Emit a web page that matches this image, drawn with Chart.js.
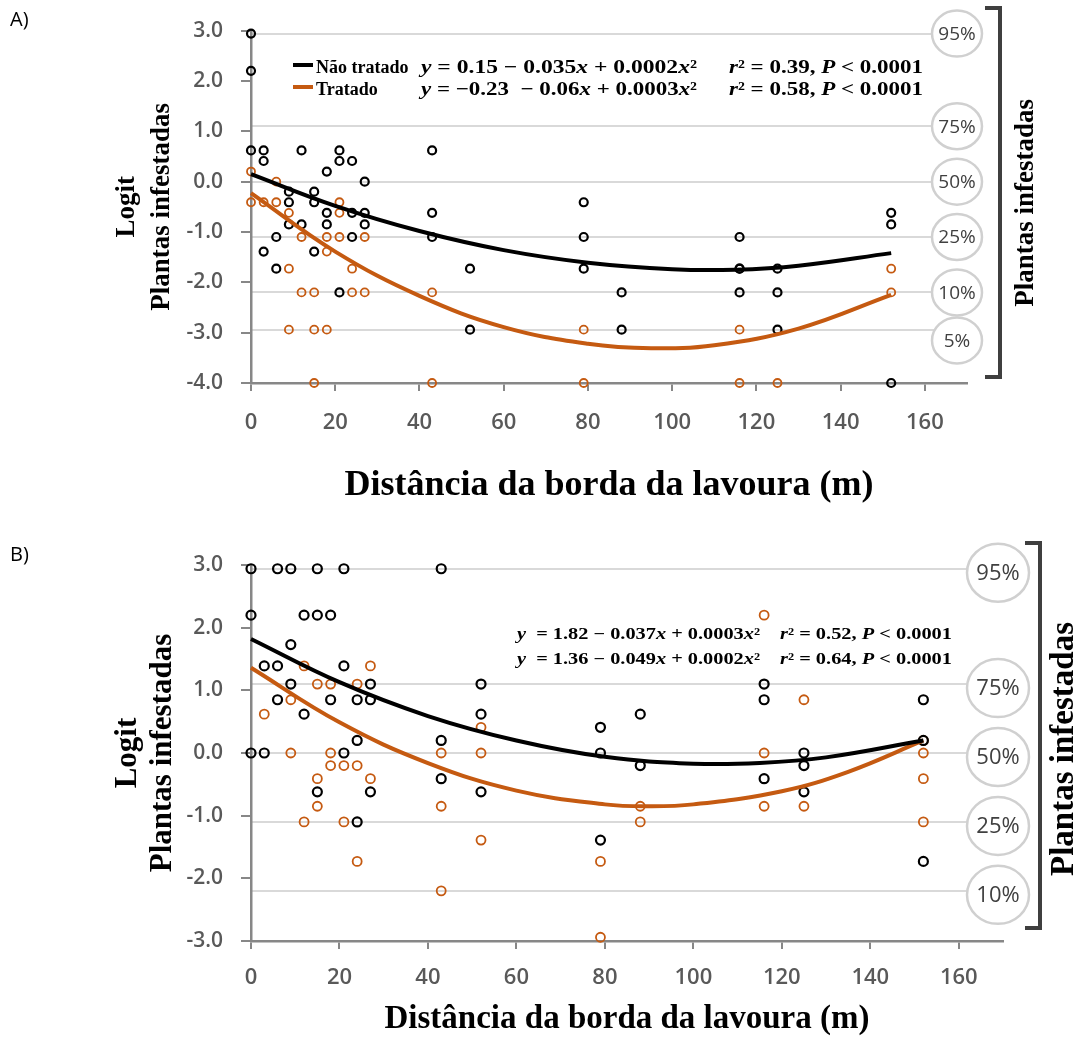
<!DOCTYPE html>
<html lang="pt">
<head>
<meta charset="utf-8">
<title>Plantas infestadas (logit) x distância da borda da lavoura</title>
<script src="https://cdn.jsdelivr.net/npm/chart.js@4.4.1/dist/chart.umd.min.js"></script>
<style>
  html, body { margin: 0; padding: 0; background: #fff; }
  #wrap { position: relative; width: 1078px; height: 1039px; overflow: hidden; }
  .panel { position: absolute; left: 0; width: 1078px; }
  #boxA { top: 0; height: 520px; }
  #boxB { top: 520px; height: 519px; }
  .tag { position: absolute; left: 10px; font: 20px 'Open Sans', sans-serif; color: #000; }
</style>
</head>
<body>
<div id="wrap">
  <div class="panel" id="boxA"><canvas id="chartA"></canvas></div>
  <div class="panel" id="boxB"><canvas id="chartB"></canvas></div>
  <div class="tag" style="top:5px">A)</div>
  <div class="tag" style="top:540px">B)</div>
</div>
<script>
/* ── Data ── */
const X_TICKS   = [0, 20, 40, 60, 80, 100, 120, 140, 160];
const Y_TICKS_A = [-4, -3, -2, -1, 0, 1, 2, 3];
const Y_TICKS_B = [-3, -2, -1, 0, 1, 2, 3];

const PCT_LABELS_A = ['95%', '75%', '50%', '25%', '10%', '5%'];
const PCT_LOGIT_A  = [2.94, 1.10, 0, -1.10, -2.20, -2.94];
const PCT_LABELS_B = ['95%', '75%', '50%', '25%', '10%'];
const PCT_LOGIT_B  = [2.94, 1.10, 0, -1.10, -2.20];

const SERIES = ['Não tratado', 'Tratado'];

// A) observed points
const A_NT_X = [0,0,0, 3,3,3, 6,6, 9,9,9, 12,12, 15,15,15, 18,18,18, 21,21,21, 24,24,24, 27,27,27, 43,43,43, 52,52, 79,79,79, 88,88, 116,116,116,116, 125,125,125, 152,152,152];
const A_NT_Y = [2.94,2.2,0.62, 0.62,0.41,-1.39, -1.1,-1.73, -0.2,-0.41,-0.85, 0.62,-0.85, -0.2,-0.41,-1.39, 0.2,-0.62,-0.85, 0.62,0.41,-2.2, 0.41,-0.62,-1.1, 0,-0.62,-0.85, 0.62,-0.62,-1.1, -1.73,-2.94, -0.41,-1.1,-1.73, -2.2,-2.94, -1.1,-1.73,-1.73,-2.2, -1.73,-2.2,-2.94, -0.62,-0.85,-4.0];
const A_T_X  = [0,0, 3, 6,6, 9,9,9, 12,12, 15,15,15, 18,18,18, 21,21,21, 24,24, 27,27, 43,43, 79,79, 116,116, 125, 152,152];
const A_T_Y  = [0.2,-0.41, -0.41, 0,-0.41, -0.62,-1.73,-2.94, -1.1,-2.2, -2.2,-2.94,-4.0, -1.1,-1.39,-2.94, -0.41,-0.62,-1.1, -1.73,-2.2, -1.1,-2.2, -2.2,-4.0, -2.94,-4.0, -2.94,-4.0, -4.0, -1.73,-2.2];

// A) fitted curves (read off the picture)
const A_FIT_NT_X = [0, 20, 40, 60, 80, 100, 115, 130, 152];
const A_FIT_NT_Y = [0.15, -0.48, -0.98, -1.36, -1.61, -1.74, -1.75, -1.67, -1.42];
const A_FIT_T_X  = [0, 20, 40, 60, 80, 95, 110, 130, 152];
const A_FIT_T_Y  = [-0.23, -1.39, -2.27, -2.89, -3.22, -3.31, -3.25, -2.92, -2.25];

// B) observed points
const B_NT_X = [0,0,0, 3,3, 6,6,6, 9,9,9, 12,12, 15,15,15, 18,18, 21,21,21, 24,24,24, 27,27,27, 43,43,43, 52,52,52, 79,79,79, 88,88, 116,116,116, 125,125,125, 152,152,152];
const B_NT_Y = [2.94,2.2,0, 1.39,0, 2.94,1.39,0.85, 2.94,1.73,1.1, 2.2,0.62, 2.94,2.2,-0.62, 2.2,0.85, 2.94,1.39,0, 0.85,0.2,-1.1, 1.1,0.85,-0.62, 2.94,0.2,-0.41, 1.1,0.62,-0.62, 0.41,0,-1.39, 0.62,-0.2, 1.1,0.85,-0.41, 0,-0.2,-0.62, 0.85,0.2,-1.73];
const B_T_X  = [3, 9,9, 12,12, 15,15,15, 18,18,18, 21,21, 24,24,24, 27,27, 43,43,43, 52,52,52, 79,79, 88,88, 116,116,116, 125,125, 152,152,152,152];
const B_T_Y  = [0.62, 0.85,0, 1.39,-1.1, 1.1,-0.41,-0.85, 1.1,0,-0.2, -0.2,-1.1, 1.1,-0.2,-1.73, 1.39,-0.41, 0,-0.85,-2.2, 0.41,0,-1.39, -1.73,-2.94, -0.85,-1.1, 2.2,0,-0.85, 0.85,-0.85, 0.2,0,-0.41,-1.1];

// B) fitted curves
const B_FIT_NT_X = [0, 20, 40, 60, 80, 100, 115, 130, 152];
const B_FIT_NT_Y = [1.82, 1.13, 0.59, 0.20, -0.06, -0.17, -0.16, -0.07, 0.20];
const B_FIT_T_X  = [0, 20, 40, 60, 80, 90, 100, 120, 135, 152];
const B_FIT_T_Y  = [1.36, 0.49, -0.16, -0.60, -0.82, -0.85, -0.82, -0.61, -0.30, 0.20];

const EQ_A = ['y = 0.15 − 0.035x + 0.0002x²', 'y = −0.23  − 0.06x + 0.0003x²'];
const R2_A = ['r² = 0.39, P < 0.0001', 'r² = 0.58, P < 0.0001'];
const EQ_B = ['y  = 1.82 − 0.037x + 0.0003x²', 'y  = 1.36 − 0.049x + 0.0002x²'];
const R2_B = ['r² = 0.52, P < 0.0001', 'r² = 0.64, P < 0.0001'];

/* ── Style ── */
const C = {
  black:  '#000000',
  orange: '#c55a11',
  axis:   '#878787',
  grid:   '#d9d9d9',
  tick:   '#595959',
  ring:   '#d0d0d0',
  ringTx: '#404040',
  brace:  '#3f3f3f',
};
const SERIF = "'Liberation Serif', 'Times New Roman', serif";
const SANS  = "'Open Sans', sans-serif";

const zip = (xs, ys) => xs.map((x, i) => ({ x, y: ys[i] }));

// math-ish text: variables italic, stretched to the width it takes in the figure
function drawMath(ctx, str, x, y, size, width) {
  const parts = str.split(/([xyrP])/).filter(Boolean);
  const fontOf = p => (/^[xyrP]$/.test(p) ? 'italic ' : '') + 'bold ' + size + 'px ' + SERIF;
  let total = 0;
  parts.forEach(p => { ctx.font = fontOf(p); total += ctx.measureText(p).width; });
  ctx.save();
  ctx.translate(x, y);
  ctx.scale(width / total, 1);
  let cx = 0;
  parts.forEach(p => {
    ctx.font = fontOf(p);
    ctx.fillText(p, cx, 0);
    cx += ctx.measureText(p).width;
  });
  ctx.restore();
}

/* ── Decorations: % rings, bracket, right title, legend, equations ── */
const panelDecor = {
  id: 'panelDecor',
  afterDraw(chart, args, o) {
    const ctx = chart.ctx;
    const yp = chart.scales.yp;
    const area = chart.chartArea;
    ctx.save();

    // rings with percentages
    let prev = -Infinity;
    ctx.textAlign = 'center';
    ctx.textBaseline = 'middle';
    o.pctLabels.forEach((lab, i) => {
      let cy = yp.getPixelForValue(o.pctLogit[i]) + o.ringShift;
      if (cy < prev + 2 * o.ry + 2) cy = prev + 2 * o.ry + 2;
      prev = cy;
      ctx.beginPath();
      ctx.ellipse(o.ringX, cy, o.rx, o.ry, 0, 0, Math.PI * 2);
      ctx.fillStyle = '#fff';
      ctx.fill();
      ctx.lineWidth = 2.5;
      ctx.strokeStyle = C.ring;
      ctx.stroke();
      ctx.fillStyle = C.ringTx;
      ctx.font = o.ringFont + 'px ' + SANS;
      ctx.fillText(lab, o.ringX, cy + 1);
    });

    // bracket
    ctx.beginPath();
    ctx.moveTo(o.braceX - 15, o.braceTop);
    ctx.lineTo(o.braceX, o.braceTop);
    ctx.lineTo(o.braceX, o.braceBottom);
    ctx.lineTo(o.braceX - 15, o.braceBottom);
    ctx.lineWidth = 4;
    ctx.strokeStyle = C.brace;
    ctx.stroke();

    // right-hand title
    ctx.save();
    ctx.translate(o.titleX, (area.top + area.bottom) / 2 - 4);
    ctx.rotate(-Math.PI / 2);
    ctx.fillStyle = '#000';
    ctx.font = 'bold ' + o.titleSize + 'px ' + SERIF;
    ctx.fillText('Plantas infestadas', 0, 0);
    ctx.restore();

    // legend
    ctx.textAlign = 'left';
    if (o.legend) {
      const colors = [C.black, C.orange];
      SERIES.forEach((name, i) => {
        const ly = o.legend.y[i];
        ctx.beginPath();
        ctx.moveTo(o.legend.x, ly - 3);
        ctx.lineTo(o.legend.x + 20, ly - 3);
        ctx.lineWidth = 4;
        ctx.strokeStyle = colors[i];
        ctx.stroke();
        ctx.fillStyle = '#000';
        ctx.font = 'bold 18px ' + SERIF;
        ctx.fillText(name, o.legend.x + 23, ly);
      });
    }

    // equations
    ctx.fillStyle = '#000';
    o.eq.forEach((s, i) => drawMath(ctx, s, o.eqX, o.eqY[i], o.eqSize, o.eqW));
    o.r2.forEach((s, i) => drawMath(ctx, s, o.r2X, o.eqY[i], o.eqSize, o.r2W));
    ctx.restore();
  },
};
Chart.register(panelDecor);

function fitSet(label, xs, ys, color) {
  return {
    label, data: zip(xs, ys), showLine: true, tension: 0.4,
    borderColor: color, borderWidth: 4, pointRadius: 0, fill: false, clip: false,
  };
}
function pointSet(label, xs, ys, color, r, bw) {
  return {
    label, data: zip(xs, ys), showLine: false,
    pointRadius: r, pointBorderWidth: bw, pointBorderColor: color,
    pointBackgroundColor: 'rgba(255,255,255,0)', clip: false,
  };
}

function makePanel(id, p) {
  const el = document.getElementById(id);
  return new Chart(el.getContext('2d'), {
    type: 'scatter',
    data: {
      datasets: [
        fitSet(SERIES[0], p.fitNT[0], p.fitNT[1], C.black),
        fitSet(SERIES[1], p.fitT[0], p.fitT[1], C.orange),
        pointSet(SERIES[0], p.nt[0], p.nt[1], C.black, p.r, 2.2),
        pointSet(SERIES[1], p.t[0], p.t[1], C.orange, p.r, 1.8),
      ],
    },
    options: {
      responsive: true,
      maintainAspectRatio: false,
      animation: false,
      events: [],
      layout: { padding: { top: p.padTop, right: p.padRight, bottom: 0, left: 0 } },
      plugins: {
        legend: { display: false },
        tooltip: { enabled: false },
        panelDecor: p.decor,
      },
      scales: {
        x: {
          type: 'linear', min: 0, max: 170,
          afterBuildTicks: s => { s.ticks = X_TICKS.map(v => ({ value: v })); },
          afterFit: s => { s.height = p.xAxisH; },
          ticks: {
            color: C.tick, padding: p.xTickPad, maxRotation: 0, autoSkip: false,
            font: { family: SANS, size: 22, weight: '600' },
          },
          grid: { drawOnChartArea: false, drawTicks: true, tickLength: 8, color: C.axis, lineWidth: 2 },
          border: { display: true, color: C.axis, width: 2.5 },
          title: {
            display: true, text: 'Distância da borda da lavoura (m)', color: '#000',
            font: { family: SERIF, size: p.xTitleSize, weight: 'bold', lineHeight: 1.1 },
            padding: { top: 0, bottom: p.xTitlePad },
          },
        },
        y: {
          type: 'linear', position: 'left', min: p.yMin, max: 3,
          afterBuildTicks: s => { s.ticks = p.yTicks.map(v => ({ value: v })); },
          afterFit: s => { s.width = 251; },
          ticks: {
            color: C.tick, padding: 18,
            font: { family: SANS, size: 21, weight: '600' },
            callback: v => v.toFixed(1),
          },
          grid: { drawOnChartArea: false, drawTicks: true, tickLength: 10, color: C.axis, lineWidth: 2 },
          border: { display: true, color: C.axis, width: 2.5 },
          title: {
            display: true, text: ['Logit', 'Plantas infestadas'], color: '#000',
            font: { family: SERIF, size: p.yTitleSize, weight: 'bold', lineHeight: '35px' },
            padding: { top: p.yTitlePad, bottom: 0 },
          },
        },
        yp: {
          type: 'linear', position: 'right', min: p.yMin, max: 3,
          afterBuildTicks: s => { s.ticks = p.decor.pctLogit.map(v => ({ value: v })); },
          afterFit: s => { s.width = 0; },
          ticks: { display: false },
          grid: { color: C.grid, lineWidth: 2, drawTicks: false },
          border: { display: false },
        },
      },
    },
  });
}

makePanel('chartA', {
  nt: [A_NT_X, A_NT_Y], t: [A_T_X, A_T_Y],
  fitNT: [A_FIT_NT_X, A_FIT_NT_Y], fitT: [A_FIT_T_X, A_FIT_T_Y],
  yMin: -4, yTicks: Y_TICKS_A, r: 4,
  padTop: 30, padRight: 111, xAxisH: 137,
  xTickPad: 19, xTitleSize: 36, xTitlePad: 14,
  yTitleSize: 27, yTitlePad: 110,
  decor: {
    pctLabels: PCT_LABELS_A, pctLogit: PCT_LOGIT_A,
    ringX: 957, rx: 25, ry: 23, ringShift: 0, ringFont: 19,
    braceX: 1000, braceTop: 8, braceBottom: 377,
    titleX: 1026, titleSize: 27,
    legend: { x: 293, y: [68, 90] },
    eq: EQ_A, r2: R2_A, eqX: 421, r2X: 729, eqY: [68, 90], eqSize: 19, eqW: 276, r2W: 194,
  },
});

makePanel('chartB', {
  nt: [B_NT_X, B_NT_Y], t: [B_T_X, B_T_Y],
  fitNT: [B_FIT_NT_X, B_FIT_NT_Y], fitT: [B_FIT_T_X, B_FIT_T_Y],
  yMin: -3, yTicks: Y_TICKS_B, r: 4.5,
  padTop: 45, padRight: 75, xAxisH: 98,
  xTickPad: 16, xTitleSize: 33, xTitlePad: 1,
  yTitleSize: 31, yTitlePad: 110,
  decor: {
    pctLabels: PCT_LABELS_B, pctLogit: PCT_LOGIT_B,
    ringX: 998, rx: 31, ry: 29, ringShift: 4, ringFont: 22,
    braceX: 1040, braceTop: 23, braceBottom: 408,
    titleX: 1064, titleSize: 33,
    legend: null,
    eq: EQ_B, r2: R2_B, eqX: 517, r2X: 780, eqY: [115, 140], eqSize: 16, eqW: 243, r2W: 172,
  },
});
</script>
</body>
</html>
